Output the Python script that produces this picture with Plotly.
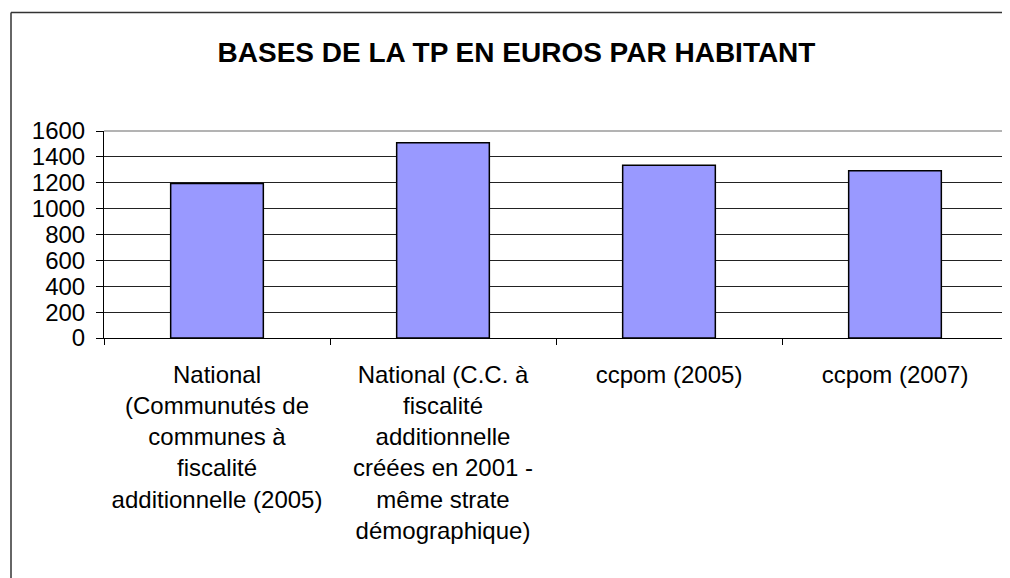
import plotly.graph_objects as go

categories = [
    "National<br>(Communutés de<br>communes à<br>fiscalité<br>additionnelle (2005)",
    "National (C.C. à<br>fiscalité<br>additionnelle<br>créées en 2001 -<br>même strate<br>démographique)",
    "ccpom (2005)",
    "ccpom (2007)",
]
values = [1195, 1510, 1335, 1292]
y_ticks = [0, 200, 400, 600, 800, 1000, 1200, 1400, 1600]

# page is offset by the browser's default 8px body margin
OFF = 8
W, H = 1010 - OFF, 578 - OFF
L, R, T, B = 104 - OFF, 2, 131 - OFF, 240
pw, ph = W - L - R, H - T - B


def px_x(x):
    return (x - OFF - L) / pw


def px_y(y):
    return (H - B - (y - OFF)) / ph


font_family = "Arial, 'Liberation Sans', sans-serif"

fig = go.Figure(
    go.Bar(
        x=categories,
        y=values,
        marker=dict(color="#9999FF", line=dict(color="#000000", width=1.5)),
        hoverinfo="skip",
    )
)

fig.update_layout(
    width=W,
    height=H,
    margin=dict(l=L, r=R, t=T, b=B, autoexpand=False),
    paper_bgcolor="white",
    plot_bgcolor="white",
    bargap=0.59,
    showlegend=False,
    font=dict(family=font_family, size=24, color="black"),
    title=dict(
        text="<b>BASES DE LA TP EN EUROS PAR HABITANT</b>",
        font=dict(family=font_family, size=28, color="black"),
        x=(516.5 - OFF) / W,
        xanchor="center",
        xref="container",
        y=1 - (52.5 - OFF) / H,
        yanchor="middle",
        yref="container",
    ),
    xaxis=dict(
        type="category",
        showline=True,
        linecolor="black",
        linewidth=1,
        ticks="outside",
        tickson="boundaries",
        ticklen=6,
        tickcolor="black",
        showgrid=False,
        tickangle=0,
        ticklabelstandoff=15,
        tickfont=dict(family=font_family, size=24, color="black"),
    ),
    yaxis=dict(
        range=[0, 1600],
        tickvals=y_ticks,
        ticktext=[str(v) for v in y_ticks],
        showline=True,
        linecolor="black",
        linewidth=1,
        ticks="outside",
        ticklen=7,
        tickcolor="black",
        ticklabelstandoff=6,
        showgrid=True,
        gridcolor="#222222",
        gridwidth=1,
        zeroline=False,
        tickfont=dict(family=font_family, size=24, color="black"),
    ),
    shapes=[
        # plot area border (top and right), gray
        dict(type="line", xref="paper", yref="paper", x0=0, x1=1, y0=1, y1=1,
             line=dict(color="#9a9a9a", width=1.5), layer="above"),
        dict(type="line", xref="paper", yref="paper", x0=1, x1=1, y0=0, y1=1,
             line=dict(color="#9a9a9a", width=1.5), layer="above"),
        # outer chart border (left and top)
        dict(type="line", xref="paper", yref="paper", x0=px_x(11), x1=px_x(11),
             y0=px_y(12.5), y1=px_y(600), line=dict(color="#333333", width=1.5)),
        dict(type="line", xref="paper", yref="paper", x0=px_x(11), x1=px_x(1020),
             y0=px_y(12.5), y1=px_y(12.5), line=dict(color="#333333", width=1.5)),
    ],
)

fig.write_html("out.html")
